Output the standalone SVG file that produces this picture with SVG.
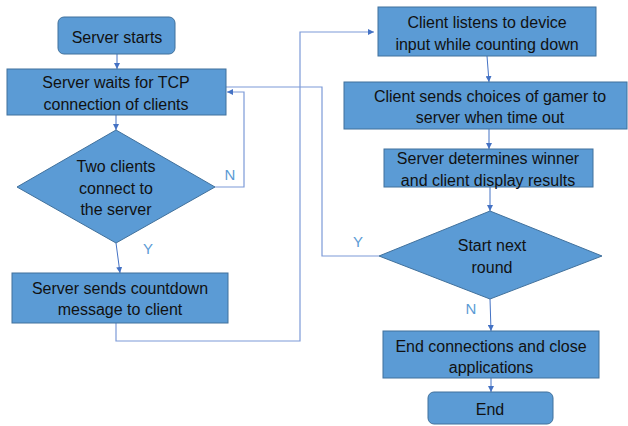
<svg xmlns="http://www.w3.org/2000/svg" width="628" height="426" viewBox="0 0 628 426">
<style>
.box{fill:#5B9BD5;stroke:#41719C;stroke-width:1}
.t{font-family:"Liberation Sans",Arial,sans-serif;font-size:16px;fill:#111;text-anchor:middle}
.lbl{font-family:"Liberation Sans",Arial,sans-serif;font-size:15px;fill:#5B9BD5;text-anchor:middle}
.c{fill:none;stroke:#4472C4;stroke-width:1}
.cl{fill:none;stroke:#7C9AD8;stroke-width:1.2}
</style>
<defs>
<marker id="ah" viewBox="0 0 10 10" refX="10" refY="5" markerWidth="6" markerHeight="6" markerUnits="userSpaceOnUse" orient="auto">
<path d="M0,0 L10,5 L0,10 z" fill="#4472C4"/>
</marker>
</defs>
<rect width="628" height="426" fill="#fff"/>
<g id="connectors">
<line class="c" x1="117" y1="54" x2="117" y2="69" marker-end="url(#ah)"/>
<line class="c" x1="116" y1="115" x2="116" y2="130" marker-end="url(#ah)"/>
<polyline class="cl" points="215,187 244,187 244,92 227,92" marker-end="url(#ah)"/>
<line class="c" x1="116" y1="243" x2="120" y2="273" marker-end="url(#ah)"/>
<polyline class="cl" points="116,323 116,341 300,341 300,32 374,32" marker-end="url(#ah)"/>
<line class="c" x1="487" y1="56" x2="489" y2="82" marker-end="url(#ah)"/>
<line class="c" x1="489" y1="129" x2="489" y2="149" marker-end="url(#ah)"/>
<line class="c" x1="490" y1="187" x2="490" y2="211" marker-end="url(#ah)"/>
<polyline class="cl" points="379,256 322,256 322,87 210,87" marker-end="url(#ah)"/>
<line class="c" x1="490" y1="299" x2="491" y2="331" marker-end="url(#ah)"/>
<line class="c" x1="491" y1="378" x2="491" y2="392" marker-end="url(#ah)"/>
<text class="lbl" x="230" y="180">N</text>
<text class="lbl" x="148" y="254">Y</text>
<text class="lbl" x="358" y="247">Y</text>
<text class="lbl" x="471" y="314">N</text>
</g>
<g id="start">
<rect class="box" x="58" y="17" width="117" height="37" rx="6"/>
<text class="t" x="117" y="43">Server starts</text>
</g>
<g id="wait">
<rect class="box" x="7" y="69" width="219" height="46"/>
<text class="t" x="116" y="88">Server waits for TCP</text>
<text class="t" x="116" y="110">connection of clients</text>
</g>
<g id="twoclients">
<polygon class="box" points="116,130 215,187 116,243 17,187"/>
<text class="t" x="116" y="172">Two clients</text>
<text class="t" x="116" y="194">connect to</text>
<text class="t" x="116" y="215">the server</text>
</g>
<g id="countdown">
<rect class="box" x="12" y="273" width="216" height="50"/>
<text class="t" x="120" y="294">Server sends countdown</text>
<text class="t" x="120" y="315">message to client</text>
</g>
<g id="listen">
<rect class="box" x="378" y="7" width="218" height="49"/>
<text class="t" x="487" y="28">Client listens to device</text>
<text class="t" x="487" y="50">input while counting down</text>
</g>
<g id="choices">
<rect class="box" x="344" y="82" width="283" height="47"/>
<text class="t" x="490" y="102">Client sends choices of gamer to</text>
<text class="t" x="490" y="123">server when time out</text>
</g>
<g id="winner">
<rect class="box" x="384" y="149" width="209" height="38"/>
<text class="t" x="488" y="164">Server determines winner</text>
<text class="t" x="488" y="186">and client display results</text>
</g>
<g id="nextround">
<polygon class="box" points="490,211 602,256 490,299 379,256"/>
<text class="t" x="492" y="251">Start next</text>
<text class="t" x="492" y="273">round</text>
</g>
<g id="close">
<rect class="box" x="383" y="331" width="216" height="47"/>
<text class="t" x="491" y="352">End connections and close</text>
<text class="t" x="491" y="373">applications</text>
</g>
<g id="end">
<rect class="box" x="428" y="392" width="125" height="32" rx="6"/>
<text class="t" x="490" y="415">End</text>
</g>
</svg>
